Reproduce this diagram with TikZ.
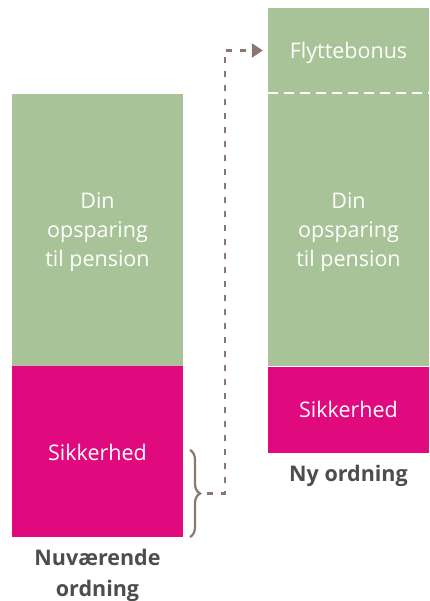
\documentclass[tikz,border=0pt]{standalone}
\usepackage{fontspec}
\setmainfont{Open Sans}
\usetikzlibrary{arrows.meta, decorations.pathreplacing, positioning}

\definecolor{savegreen}{HTML}{A8C397}
\definecolor{safemagenta}{HTML}{E0097D}
\definecolor{linkbrown}{HTML}{8B7670}
\definecolor{labelgray}{HTML}{4D4D4D}

\tikzset{
  bar/.style={fill=#1, draw=none, minimum width=171pt, inner sep=0pt, text depth=0pt,
    text=white, font=\fontsize{21.5}{29}\selectfont, align=center},
  caption/.style={text=labelgray, font=\fontsize{21.5}{31}\selectfont\bfseries, align=center}
}

\begin{document}
\begin{tikzpicture}[x=1pt, y=-1pt, >=latex]
  \useasboundingbox (0,0) rectangle (429,601);

  % current arrangement
  \node[bar=savegreen, minimum height=272pt] (cursave) at (97.5,230) {Din\\opsparing\\til pension};
  \node[bar=safemagenta, minimum height=171pt, below=0pt of cursave] (cursafe) {Sikkerhed};
  \node[caption, below=8.5pt of cursafe] (curlabel) {Nuværende\\ordning};

  % new arrangement
  \node[bar=savegreen, minimum width=161pt, minimum height=85pt] (bonus) at (348.5,50.5) {Flyttebonus};
  \node[bar=savegreen, minimum width=161pt, minimum height=273pt, below=0pt of bonus] (newsave) {Din\\opsparing\\til pension};
  \node[bar=safemagenta, minimum width=161pt, minimum height=86pt, below=0pt of newsave] (newsafe) {Sikkerhed};
  \node[caption, below=8.5pt of newsafe] (newlabel) {Ny ordning};

  \draw[white, line width=2pt, dash pattern=on 10pt off 6pt] (bonus.south west) -- (bonus.south east);

  % brace and link
  \coordinate (bracetop) at (190,450);
  \coordinate (bracebot) at (190,537);
  \draw[linkbrown, line width=2.2pt, decorate, decoration={brace, amplitude=10pt}]
    (bracetop) -- (bracebot) coordinate[pos=0.5, xshift=17pt] (bracetip);
  \draw[linkbrown, line width=2.4pt, dash pattern=on 6pt off 8pt, -{Triangle[length=11pt, width=14pt]}]
    (bracetip) -| ([xshift=-43pt]bonus.west) -- ([xshift=-5pt]bonus.west);
\end{tikzpicture}
\end{document}
